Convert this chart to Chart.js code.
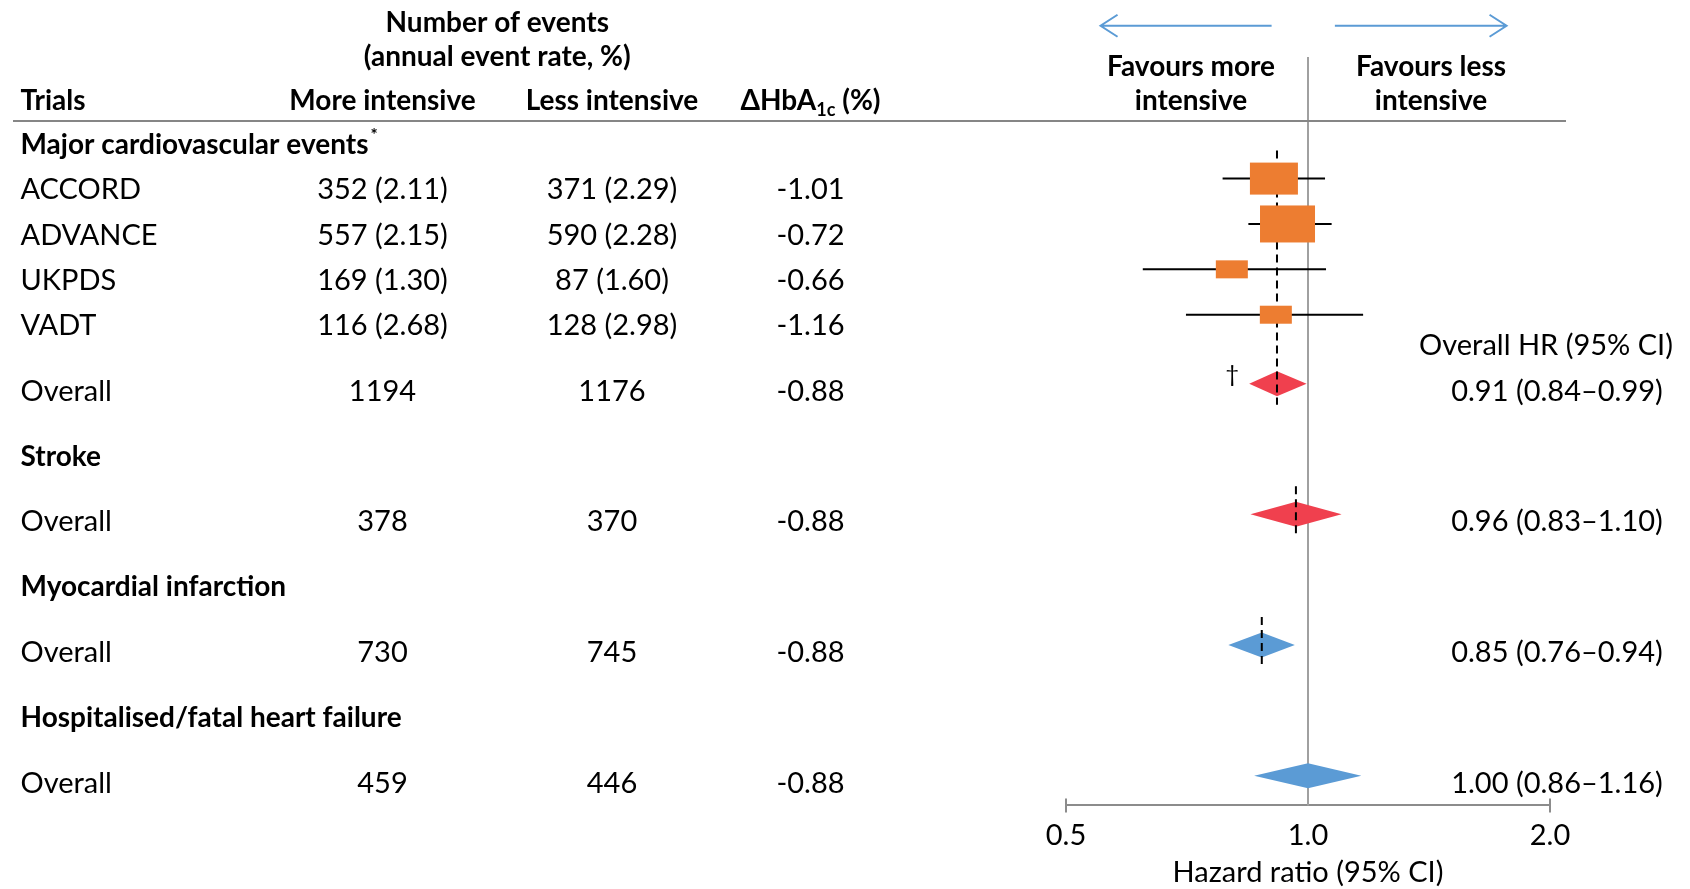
<!DOCTYPE html>
<html>
<head>
<meta charset="utf-8">
<script src="https://cdn.jsdelivr.net/npm/chart.js@4.4.1/dist/chart.umd.min.js"></script>
<style>
  html, body { margin: 0; padding: 0; background: #fff; }
  #wrap { width: 1690px; height: 889px; position: relative; }
</style>
</head>
<body>
<div id="wrap"><canvas id="forest"></canvas></div>
<script>
// ---- data ----
const trials = ["ACCORD", "ADVANCE", "UKPDS", "VADT"];
const trialMore = ["352 (2.11)", "557 (2.15)", "169 (1.30)", "116 (2.68)"];
const trialLess = ["371 (2.29)", "590 (2.28)", "87 (1.60)", "128 (2.98)"];
const trialHbA1c = ["-1.01", "-0.72", "-0.66", "-1.16"];
const trialHR = [0.907, 0.943, 0.804, 0.912];
const trialLo = [0.783, 0.843, 0.623, 0.705];
const trialHi = [1.05, 1.07, 1.053, 1.171];

const outcomes = ["Major cardiovascular events", "Stroke", "Myocardial infarction", "Hospitalised/fatal heart failure"];
const overallMore = ["1194", "378", "730", "459"];
const overallLess = ["1176", "370", "745", "446"];
const overallHbA1c = ["-0.88", "-0.88", "-0.88", "-0.88"];
const overallHR = [0.915, 0.966, 0.876, 1.0];
const overallLo = [0.845, 0.848, 0.796, 0.857];
const overallHi = [0.996, 1.101, 0.963, 1.165];
const overallLabel = ["0.91 (0.84\u20130.99)", "0.96 (0.83\u20131.10)", "0.85 (0.76\u20130.94)", "1.00 (0.86\u20131.16)"];

const xTicks = [0.5, 1.0, 2.0];
const arrowLeft = [0.552, 0.901];
const arrowRight = [1.08, 1.766];

// ---- styles / layout ----
const FONT = "Lato";
const CAP = 0.7165;
const REG = 29;
const BOLD = 28;
const ORANGE = "#ED7D31";
const diamondColors = ["#F0404E", "#F0404E", "#5B9BD5", "#5B9BD5"];
const boxSize = [[48, 32], [55, 37], [32, 18], [32, 18]];
const COL = { trial: 20.5, more: 382.5, less: 612, hba: 810.5, hr: 1557, favMore: 1191, favLess: 1431 };

// rows in line units (1 unit = one trial line)
const FIRST_SECTION = 3.163;
const SECTION_STEP = 1.44;
const TRIAL_MARK = -0.227;
const OVERALL_MARK = -0.148;

const rows = [];
let cursor = FIRST_SECTION;
outcomes.forEach((name, i) => {
  if (i > 0) cursor += SECTION_STEP;
  rows.push({ kind: "section", i, y: cursor });
  if (i === 0) {
    trials.forEach((t, j) => {
      cursor += 1;
      rows.push({ kind: "trial", i: j, y: cursor });
    });
  }
  cursor += SECTION_STEP;
  rows.push({ kind: "overall", i, y: cursor });
});
const trialRows = rows.filter(r => r.kind === "trial");
const overallRows = rows.filter(r => r.kind === "overall");

const ciSets = trials.map((t, j) => ({
  label: t,
  data: [
    { x: trialLo[j], y: trialRows[j].y + TRIAL_MARK },
    { x: trialHi[j], y: trialRows[j].y + TRIAL_MARK }
  ],
  showLine: true,
  borderColor: "#000",
  borderWidth: 2,
  pointRadius: 0
}));

function text(ctx, s, x, y, size, bold, align) {
  ctx.font = (bold ? "bold " : "") + size + "px " + FONT;
  ctx.textAlign = align || "left";
  ctx.textBaseline = "alphabetic";
  ctx.fillStyle = "#000";
  ctx.fillText(s, x, y + size * CAP / 2);
}

const forestPlugin = {
  id: "forest",
  beforeDatasetsDraw(chart) {
    const { ctx, scales: { x, y }, chartArea } = chart;
    ctx.save();
    // null line
    ctx.strokeStyle = "#A0A0A0";
    ctx.lineWidth = 2;
    ctx.beginPath();
    ctx.moveTo(x.getPixelForValue(1), y.getPixelForValue(1.258));
    ctx.lineTo(x.getPixelForValue(1), chartArea.bottom);
    ctx.stroke();
    // pooled diamonds
    overallRows.forEach(r => {
      const cy = y.getPixelForValue(r.y + OVERALL_MARK);
      ctx.fillStyle = diamondColors[r.i];
      ctx.beginPath();
      ctx.moveTo(x.getPixelForValue(overallLo[r.i]), cy);
      ctx.lineTo(x.getPixelForValue(overallHR[r.i]), cy - 12.5);
      ctx.lineTo(x.getPixelForValue(overallHi[r.i]), cy);
      ctx.lineTo(x.getPixelForValue(overallHR[r.i]), cy + 12.5);
      ctx.closePath();
      ctx.fill();
    });
    // dashed pooled-estimate lines
    ctx.strokeStyle = "#000";
    ctx.setLineDash([8, 5]);
    overallRows.forEach(r => {
      if (overallHR[r.i] === 1) return;
      const top = r.i === 0 ? y.getPixelForValue(trialRows[0].y + TRIAL_MARK) : y.getPixelForValue(r.y + OVERALL_MARK);
      const bot = y.getPixelForValue(r.y + OVERALL_MARK);
      const px = x.getPixelForValue(overallHR[r.i]);
      ctx.beginPath();
      ctx.moveTo(px, top - 28);
      ctx.lineTo(px, bot + 21);
      ctx.stroke();
    });
    ctx.restore();
  },
  afterDatasetsDraw(chart) {
    const { ctx, scales: { x, y } } = chart;
    ctx.save();
    trialRows.forEach(r => {
      const cx = x.getPixelForValue(trialHR[r.i]);
      const cy = y.getPixelForValue(r.y + TRIAL_MARK);
      const [w, h] = boxSize[r.i];
      ctx.fillStyle = ORANGE;
      ctx.fillRect(cx - w / 2, cy - h / 2, w, h);
    });
    // dagger beside the first pooled estimate
    const d = overallRows[0];
    text(ctx, "\u2020", x.getPixelForValue(overallLo[0]) - 17, y.getPixelForValue(d.y + OVERALL_MARK) - 10, 24, false, "center");
    ctx.restore();
  },
  afterDraw(chart) {
    const { ctx, scales: { x, y }, chartArea } = chart;
    const Y = v => y.getPixelForValue(v);
    ctx.save();

    // column headers
    text(ctx, "Number of events", (COL.more + COL.less) / 2, Y(0.477), BOLD, true, "center");
    text(ctx, "(annual event rate, %)", (COL.more + COL.less) / 2, Y(1.236), BOLD, true, "center");
    const hy = Y(2.208);
    text(ctx, "Trials", COL.trial, hy, BOLD, true);
    text(ctx, "More intensive", COL.more, hy, BOLD, true, "center");
    text(ctx, "Less intensive", COL.less, hy, BOLD, true, "center");
    // ΔHbA1c (%) with subscript
    const parts = [["\u0394HbA", BOLD, 0], ["1c", 18, 6], [" (%)", BOLD, 0]];
    let tw = 0;
    parts.forEach(p => { ctx.font = "bold " + p[1] + "px " + FONT; tw += ctx.measureText(p[0]).width; });
    let px = COL.hba - tw / 2;
    parts.forEach(p => {
      ctx.font = "bold " + p[1] + "px " + FONT;
      ctx.textAlign = "left";
      ctx.textBaseline = "alphabetic";
      ctx.fillStyle = "#000";
      ctx.fillText(p[0], px, hy + BOLD * CAP / 2 + p[2]);
      px += ctx.measureText(p[0]).width;
    });

    // favours labels and arrows
    text(ctx, "Favours more", COL.favMore, Y(1.45), BOLD, true, "center");
    text(ctx, "intensive", COL.favMore, hy, BOLD, true, "center");
    text(ctx, "Favours less", COL.favLess, Y(1.45), BOLD, true, "center");
    text(ctx, "intensive", COL.favLess, hy, BOLD, true, "center");

    ctx.strokeStyle = "#5B9BD5";
    ctx.lineWidth = 2;
    const ay = Y(0.567);
    const drawArrow = (from, to) => {
      const a = x.getPixelForValue(from), b = x.getPixelForValue(to);
      const dir = Math.sign(b - a);
      ctx.beginPath();
      ctx.moveTo(a, ay);
      ctx.lineTo(b, ay);
      ctx.moveTo(b - dir * 17, ay - 11);
      ctx.lineTo(b, ay);
      ctx.lineTo(b - dir * 17, ay + 11);
      ctx.stroke();
    };
    drawArrow(arrowLeft[1], arrowLeft[0]);
    drawArrow(arrowRight[0], arrowRight[1]);

    // header rule
    ctx.strokeStyle = "#868686";
    ctx.lineWidth = 2;
    ctx.beginPath();
    ctx.moveTo(13, Y(2.664));
    ctx.lineTo(1566, Y(2.664));
    ctx.stroke();

    // table body
    rows.forEach(r => {
      const ry = Y(r.y);
      if (r.kind === "section") {
        text(ctx, outcomes[r.i], COL.trial, ry, BOLD, true);
        if (r.i === 0) {
          ctx.font = "bold " + BOLD + "px " + FONT;
          const w = ctx.measureText(outcomes[0]).width;
          text(ctx, "*", COL.trial + w + 2, ry - 9, 17, true);
        }
      } else if (r.kind === "trial") {
        text(ctx, trials[r.i], COL.trial, ry, REG, false);
        text(ctx, trialMore[r.i], COL.more, ry, REG, false, "center");
        text(ctx, trialLess[r.i], COL.less, ry, REG, false, "center");
        text(ctx, trialHbA1c[r.i], COL.hba, ry, REG, false, "center");
      } else {
        text(ctx, "Overall", COL.trial, ry, REG, false);
        text(ctx, overallMore[r.i], COL.more, ry, REG, false, "center");
        text(ctx, overallLess[r.i], COL.less, ry, REG, false, "center");
        text(ctx, overallHbA1c[r.i], COL.hba, ry, REG, false, "center");
        text(ctx, overallLabel[r.i], COL.hr, ry, REG, false, "center");
      }
    });
    text(ctx, "Overall HR (95% CI)", 1546, Y(overallRows[0].y - 1), REG, false, "center");

    // end caps on the hazard-ratio axis
    ctx.strokeStyle = "#8C8C8C";
    ctx.lineWidth = 2;
    [xTicks[0], xTicks[xTicks.length - 1]].forEach(v => {
      const tx = x.getPixelForValue(v);
      ctx.beginPath();
      ctx.moveTo(tx, chartArea.bottom - 7);
      ctx.lineTo(tx, chartArea.bottom + 7);
      ctx.stroke();
    });
    ctx.restore();
  }
};

Chart.defaults.font.family = FONT;

new Chart(document.getElementById("forest"), {
  type: "scatter",
  data: { datasets: ciSets },
  options: {
    responsive: true,
    maintainAspectRatio: false,
    animation: false,
    layout: { padding: { left: 1066, right: 140, top: 0, bottom: 2 } },
    plugins: { legend: { display: false }, tooltip: { enabled: false } },
    scales: {
      x: {
        type: "logarithmic",
        min: 0.5,
        max: 2,
        afterBuildTicks: s => { s.ticks = xTicks.map(v => ({ value: v })); },
        ticks: {
          callback: v => Number(v).toFixed(1),
          color: "#000",
          font: { size: REG },
          padding: 13,
          maxRotation: 0,
          autoSkip: false
        },
        grid: { display: false, drawTicks: false },
        border: { display: true, color: "#8C8C8C", width: 2 },
        title: {
          display: true,
          text: "Hazard ratio (95% CI)",
          color: "#000",
          font: { size: REG },
          padding: { top: -11, bottom: -3 }
        }
      },
      y: { type: "linear", min: 0, max: 17.75, reverse: true, display: false }
    }
  },
  plugins: [forestPlugin]
});
</script>
</body>
</html>
